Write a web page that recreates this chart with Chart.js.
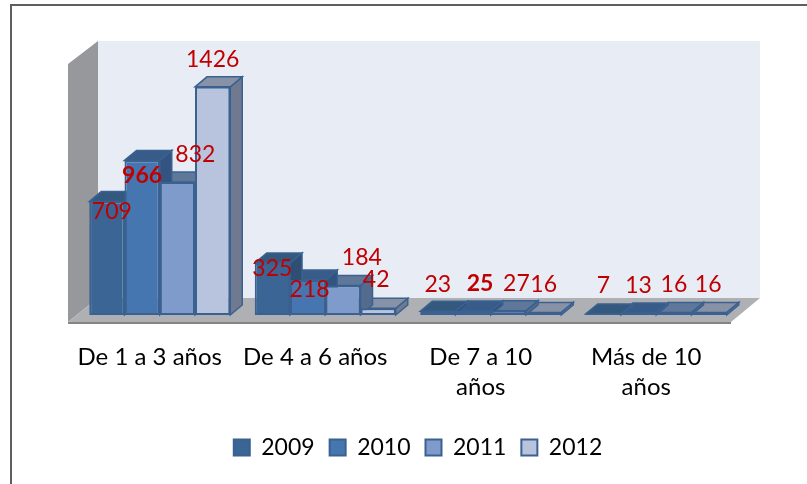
<!DOCTYPE html>
<html>
<head>
<meta charset="utf-8">
<title>Chart</title>
<style>
    html, body { margin: 0; padding: 0; background: #fff; }
    #wrap { position: relative; width: 807px; height: 484px; }
</style>
<script src="https://cdn.jsdelivr.net/npm/chart.js@4"></script>
</head>
<body>
<div id="wrap"><canvas id="chart" width="807" height="484"></canvas></div>
<script>
const categories = ['De 1 a 3 años', 'De 4 a 6 años', ['De 7 a 10', 'años'], ['Más de 10', 'años']];
const years = ['2009', '2010', '2011', '2012'];
const values2009 = [709, 325, 23, 7];
const values2010 = [966, 218, 25, 13];
const values2011 = [832, 184, 27, 16];
const values2012 = [1426, 42, 16, 16];

const fontFamily = 'Lato, "Open Sans", sans-serif';
const depthX = 12;
const depthY = 10;

// front, top and side colours for each year
const faces = [
    { front: '#3b6594', top: '#34597f', side: '#2f4e73' },
    { front: '#4676af', top: '#385c8a', side: '#335480' },
    { front: '#7e9bcb', top: '#5f7899', side: '#546b8d' },
    { front: '#b8c4de', top: '#8892a7', side: '#6f7a90' }
];
const edgeColor = '#3a6190';

// where each value label sits relative to the top middle of its bar
const labelNudge = [
    [[5, 10], [0, 6], [0, -27], [0, -28]],
    [[0, 15], [2, 9], [7, -27], [0, -27]],
    [[18, -27], [19, -28], [8, -27], [0, -28]],
    [[0, -27], [-2, -29], [0, -28], [-1, -28]]
];
const boldLabels = { '1:0': true, '1:2': true };

function poly(ctx, points, fill, stroke) {
    ctx.beginPath();
    points.forEach((p, i) => (i ? ctx.lineTo(p[0], p[1]) : ctx.moveTo(p[0], p[1])));
    ctx.closePath();
    ctx.fillStyle = fill;
    ctx.fill();
    if (stroke) {
        ctx.strokeStyle = stroke;
        ctx.lineWidth = 1.5;
        ctx.stroke();
    }
}

const roomPlugin = {
    id: 'room',
    afterLayout(chart) {
        // the legend sits right of the plot centre in the reference
        chart.legend.left += 10;
        chart.legend.right += 10;
    },
    beforeDatasetsDraw(chart) {
        const ctx = chart.ctx;
        const a = chart.chartArea;
        const floorY = a.bottom + 7;
        const backX = a.left + 21;
        const backRight = a.right + 21;
        const backFloor = a.bottom - 17;
        const backTop = a.top - 18;
        const frontX = a.left - 9;
        const frontRight = a.right - 8;
        ctx.save();

        // outer frame, only left and top are in the picture
        ctx.strokeStyle = '#5f5f5f';
        ctx.lineWidth = 2;
        ctx.beginPath();
        ctx.moveTo(11, 484);
        ctx.lineTo(11, 5);
        ctx.lineTo(807, 5);
        ctx.stroke();

        poly(ctx, [[backX, backTop], [backRight, backTop], [backRight, backFloor], [backX, backFloor]], '#e8ecf5');
        poly(ctx, [[frontX, backTop + 23], [backX, backTop], [backX, backFloor], [frontX, floorY]], '#97989b');
        poly(ctx, [[frontX, floorY], [backX, backFloor], [backRight, backFloor], [frontRight, floorY]], '#aeb0b4');
        poly(ctx, [[frontX, floorY], [frontRight, floorY], [frontRight, floorY + 2], [frontX, floorY + 2]], '#858585');

        // tops and sides go right to left so a taller bar covers its left neighbour's top
        for (let d = chart.data.datasets.length - 1; d >= 0; d--) {
            chart.getDatasetMeta(d).data.forEach((bar) => {
                const half = bar.width / 2;
                const left = bar.x - half;
                const right = bar.x + half;
                poly(ctx, [[right, bar.y], [right + depthX, bar.y - depthY], [right + depthX, bar.base - depthY], [right, bar.base]], faces[d].side, edgeColor);
                poly(ctx, [[left, bar.y], [left + depthX, bar.y - depthY], [right + depthX, bar.y - depthY], [right, bar.y]], faces[d].top, edgeColor);
            });
        }
        ctx.restore();
    }
};

const valueLabelPlugin = {
    id: 'valueLabels',
    afterDatasetsDraw(chart) {
        const ctx = chart.ctx;
        ctx.save();
        ctx.textAlign = 'center';
        ctx.textBaseline = 'middle';
        ctx.fillStyle = '#c00000';
        chart.data.datasets.forEach((ds, d) => {
            chart.getDatasetMeta(d).data.forEach((bar, i) => {
                ctx.font = (boldLabels[d + ':' + i] ? 'bold ' : '') + '23px ' + fontFamily;
                ctx.fillText(ds.data[i], bar.x + labelNudge[d][i][0], bar.y + labelNudge[d][i][1]);
            });
        });
        ctx.restore();
    }
};

const allValues = [values2009, values2010, values2011, values2012];

new Chart(document.getElementById('chart').getContext('2d'), {
    type: 'bar',
    data: {
        labels: categories,
        datasets: years.map((year, i) => ({
            label: year,
            data: allValues[i],
            backgroundColor: faces[i].front,
            borderColor: edgeColor,
            borderWidth: 2,
            borderSkipped: false,
            categoryPercentage: 0.852,
            barPercentage: 1
        }))
    },
    options: {
        responsive: false,
        animation: false,
        layout: { padding: { left: 77, right: 68, top: 59, bottom: 15 } },
        scales: {
            x: {
                grid: { display: false, drawTicks: false },
                border: { display: false },
                afterFit(scale) {
                    scale.height = 106;
                },
                ticks: {
                    color: '#000',
                    padding: 27,
                    labelOffset: -10,
                    maxRotation: 0,
                    autoSkip: false,
                    font: { family: fontFamily, size: 24, lineHeight: 1.25 }
                }
            },
            y: { display: false, min: 0, max: 1600 }
        },
        plugins: {
            tooltip: { enabled: false },
            legend: {
                position: 'bottom',
                labels: {
                    color: '#000',
                    boxWidth: 16,
                    boxHeight: 16,
                    padding: 15,
                    font: { family: fontFamily, size: 23 }
                }
            }
        }
    },
    plugins: [roomPlugin, valueLabelPlugin]
});
</script>
</body>
</html>
